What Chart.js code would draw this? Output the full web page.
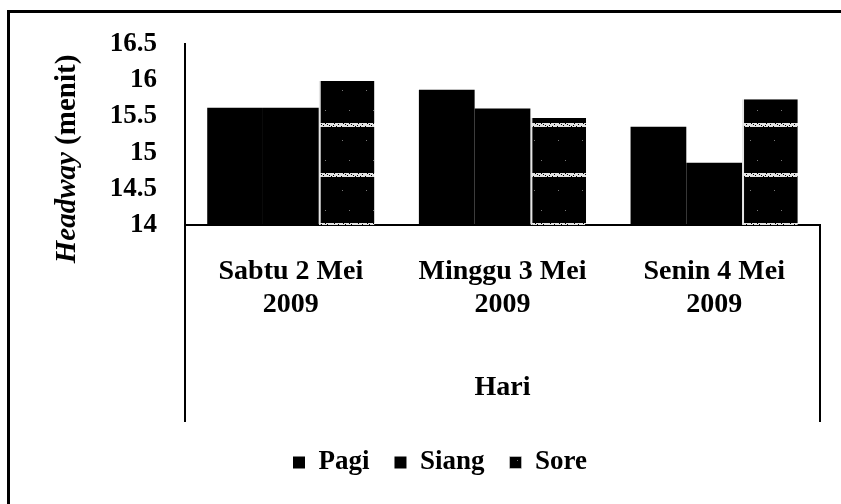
<!DOCTYPE html>
<html>
<head>
<meta charset="utf-8">
<script src="https://cdn.jsdelivr.net/npm/chart.js@4/dist/chart.umd.min.js"></script>
<style>
html,body{margin:0;padding:0;background:#fff;}
#wrap{width:841px;height:504px;position:relative;}
</style>
</head>
<body>
<div id="wrap"><canvas id="c" width="841" height="504"></canvas></div>
<script>
// ---- data ----
const categories = [['Sabtu 2 Mei', '2009'], ['Minggu 3 Mei', '2009'], ['Senin 4 Mei', '2009']];
const seriesNames = ['Pagi', 'Siang', 'Sore'];
const pagi  = [15.62, 15.87, 15.36];
const siang = [15.62, 15.61, 14.86];
const sore  = [15.99, 15.48, 15.74];
const yTicks = [14, 14.5, 15, 15.5, 16, 16.5];
const yTitleItalic = 'Headway';
const yTitleRest = ' (menit)';
const xTitle = 'Hari';

// ---- styles ----
const SERIF = "'Liberation Serif', 'Times New Roman', serif";

function makeSorePattern() {
  const c = document.createElement('canvas');
  c.width = 24; c.height = 50;
  const g = c.getContext('2d');
  g.fillStyle = '#000'; g.fillRect(0, 0, 24, 50);
  g.fillStyle = '#e2e2e2'; g.fillRect(0, 23, 24, 4);
  g.fillStyle = '#000';
  [[2,24],[7,23],[11,25],[15,24],[19,26],[22,23],[5,26],[13,23],[17,25],[0,26],[9,24],[21,25]].forEach(p => g.fillRect(p[0], p[1], 1, 1));
  g.fillStyle = '#777';
  [[13,10],[6,40]].forEach(p => g.fillRect(p[0], p[1], 1, 1));
  return g.createPattern(c, 'repeat');
}
const sorePattern = makeSorePattern();

const decor = {
  id: 'decor',
  afterDraw(chart) {
    const {ctx, chartArea: a, scales: {x}} = chart;
    const boxBottom = x.bottom - 2;
    ctx.save();
    ctx.strokeStyle = '#000';
    ctx.lineWidth = 2;
    ctx.beginPath();
    ctx.moveTo(a.left, a.bottom); ctx.lineTo(a.left, boxBottom);
    ctx.moveTo(a.right, a.bottom); ctx.lineTo(a.right, boxBottom);
    ctx.stroke();
    // outer frame (top and left)
    ctx.lineWidth = 3;
    ctx.beginPath();
    ctx.moveTo(8.5, 504); ctx.lineTo(8.5, 11.5); ctx.lineTo(841, 11.5);
    ctx.stroke();
    // y-axis title with italic "Headway"
    const f = "bold 29px " + SERIF;
    ctx.translate(68, 159);
    ctx.rotate(-Math.PI / 2);
    ctx.font = 'italic ' + f;
    const w1 = ctx.measureText(yTitleItalic).width;
    ctx.font = f;
    const w2 = ctx.measureText(yTitleRest).width;
    const sx = -(w1 + w2) / 2;
    ctx.fillStyle = '#000';
    ctx.textBaseline = 'middle';
    ctx.textAlign = 'left';
    ctx.font = 'italic ' + f;
    ctx.fillText(yTitleItalic, sx, 0);
    ctx.font = f;
    ctx.fillText(yTitleRest, sx + w1, 0);
    ctx.restore();
  }
};

new Chart(document.getElementById('c'), {
  type: 'bar',
  data: {
    labels: categories,
    datasets: [
      { label: seriesNames[0], data: pagi,  backgroundColor: '#000', borderColor: '#000', borderWidth: 0 },
      { label: seriesNames[1], data: siang, backgroundColor: '#000', borderColor: '#000', borderWidth: 0 },
      { label: seriesNames[2], data: sore,  backgroundColor: sorePattern, borderColor: '#e6e6e6',
        borderWidth: {top: 0, right: 0, bottom: 0, left: 2} }
    ]
  },
  options: {
    responsive: false,
    animation: false,
    events: [],
    categoryPercentage: 0.79,
    barPercentage: 1.0,
    layout: { padding: { left: 60, right: 21, top: 43, bottom: 18 } },
    plugins: {
      tooltip: { enabled: false },
      legend: {
        position: 'bottom',
        labels: {
          color: '#000',
          font: { family: SERIF, size: 27, weight: 'bold' },
          boxWidth: 12, boxHeight: 12, padding: 25
        }
      }
    },
    scales: {
      x: {
        grid: { display: false, drawTicks: false },
        border: { display: true, color: '#000', width: 2 },
        ticks: { color: '#000', font: { family: SERIF, size: 28, weight: 'bold', lineHeight: 1.15 }, padding: 31, maxRotation: 0, autoSkip: false },
        title: { display: true, text: xTitle, color: '#000', font: { family: SERIF, size: 28, weight: 'bold' }, padding: { top: 0, bottom: 19 } },
        afterFit(s) { s.height = 199; }
      },
      y: {
        min: 14, max: 16.5,
        grid: { display: false, drawTicks: false },
        border: { display: true, color: '#000', width: 2 },
        ticks: { color: '#000', font: { family: SERIF, size: 27, weight: 'bold' }, padding: 28,
                 callback: (v) => String(v) },
        afterBuildTicks(s) { s.ticks = yTicks.map(v => ({ value: v })); },
        afterFit(s) { s.width = 125; }
      }
    }
  },
  plugins: [decor]
});
</script>
</body>
</html>
